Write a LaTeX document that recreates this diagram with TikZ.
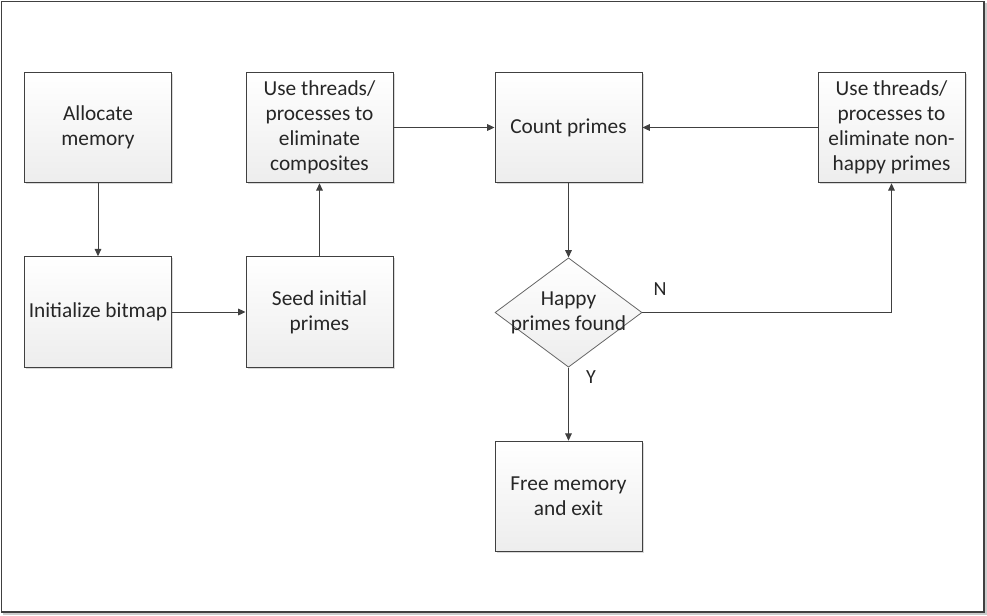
\documentclass[tikz,border=0pt]{standalone}
\usepackage{fontspec}
\setmainfont{Carlito}
\usetikzlibrary{shapes.geometric,arrows.meta,shadows}
\definecolor{linec}{HTML}{404040}
\definecolor{boxbot}{HTML}{EDEDED}
\tikzset{
  every node/.style={font=\fontsize{16}{18.75}\selectfont, text=black!85},
  procbox/.style={draw=linec, line width=0.7pt, minimum width=110.25pt, minimum height=83pt,
    top color=white, bottom color=boxbot, align=center, inner sep=0pt,
    drop shadow={shadow xshift=1.2pt, shadow yshift=-1.2pt, fill=black!25, opacity=0.6}},
  decbox/.style={draw=linec!80, line width=0.6pt, diamond, aspect=1.35, minimum width=110.25pt, minimum height=82pt,
    top color=white, bottom color=boxbot, inner sep=0pt},
  dectext/.style={align=center, inner sep=0pt},
  conn/.style={draw=linec, line width=0.7pt, -{Triangle[length=5.5pt,width=5pt]}},
  lbl/.style={font=\fontsize{15}{17}\selectfont}
}
\begin{document}
\begin{tikzpicture}[x=0.75pt,y=-0.75pt]
\useasboundingbox (0,0) rectangle (987,615);
\draw[linec, line width=1.2pt] (1.5,1.5) rectangle (984,612);
\draw[black!20, line width=1pt] (986,3) -- (986,614) -- (3,614);
\node[procbox] (alloc) at (98,127.5) {Allocate\\memory};
\node[procbox] (init) at (98,312) {Initialize bitmap};
\node[procbox] (seed) at (319.5,312) {Seed initial\\primes};
\node[procbox] (elim) at (319.5,127.5) {Use threads/\\processes to\\eliminate\\composites};
\node[procbox] (count) at (568.5,127.5) {Count primes};
\node[procbox] (nonhappy) at (891.5,127.5) {Use threads/\\processes to\\eliminate non-\\happy primes};
\node[decbox] (happy) at (568.5,312.5) {};
\node[dectext] (happytext) at (happy.center) {Happy\\primes found};
\node[procbox] (free) at (568.5,496.5) {Free memory\\and exit};
\coordinate (corner) at (891.5,312.5);
\draw[conn] (alloc) -- (init);
\draw[conn] (init) -- (seed);
\draw[conn] (seed) -- (elim);
\draw[conn] (elim) -- (count);
\draw[conn] (nonhappy) -- (count);
\draw[conn] (count) -- (happy);
\draw[conn] (happy.east) -- (corner) -- (nonhappy.south);
\draw[conn] (happy) -- (free);
\node[lbl] (nlab) at (660,289) {N};
\node[lbl] (ylab) at (591,377) {Y};
\end{tikzpicture}
\end{document}
